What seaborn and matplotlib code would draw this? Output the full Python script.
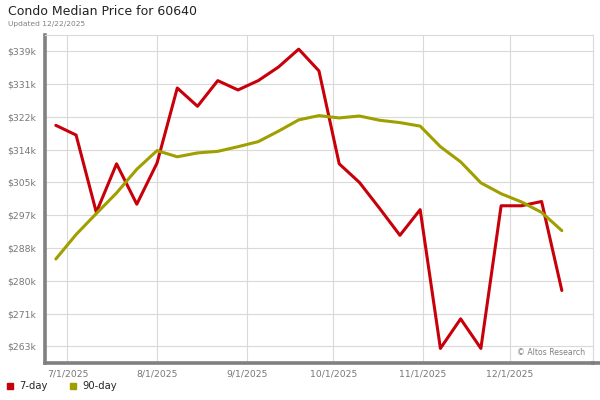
import matplotlib
matplotlib.use("Agg")
import matplotlib.pyplot as plt
import matplotlib.dates as mdates
from matplotlib.lines import Line2D
from matplotlib.ticker import FuncFormatter, FixedLocator
import seaborn as sns
import pandas as pd
import numpy as np

# ---- data ----
dates = ["2025-06-27", "2025-07-04", "2025-07-11", "2025-07-18", "2025-07-25",
         "2025-08-01", "2025-08-08", "2025-08-15", "2025-08-22", "2025-08-29",
         "2025-09-05", "2025-09-12", "2025-09-19", "2025-09-26", "2025-10-03",
         "2025-10-10", "2025-10-17", "2025-10-24", "2025-10-31", "2025-11-07",
         "2025-11-14", "2025-11-21", "2025-11-28", "2025-12-05", "2025-12-12",
         "2025-12-19"]
day7 = [319.9, 317.4, 297.5, 310.0, 299.6, 310.2, 329.5, 324.8, 331.4, 329.0,
        331.4, 334.9, 339.5, 333.9, 310.0, 305.2, 298.5, 291.6, 298.2, 262.5,
        270.1, 262.5, 299.2, 299.2, 300.3, 277.4]
day90 = [285.5, 291.8, 297.2, 302.5, 308.6, 313.4, 311.8, 312.8, 313.2, 314.4,
         315.7, 318.4, 321.3, 322.4, 321.8, 322.3, 321.2, 320.6, 319.7, 314.4,
         310.5, 305.1, 302.3, 300.2, 297.5, 292.8]
series_names = ["7-day", "90-day"]
y_ticks = [263000 + i * (339000 - 263000) / 9 for i in range(10)]
x_ticks = ["2025-07-01", "2025-08-01", "2025-09-01", "2025-10-01", "2025-11-01", "2025-12-01"]

colors = {"7-day": "#c8000a", "90-day": "#a09f00"}

df = pd.concat([
    pd.DataFrame({"date": pd.to_datetime(dates), "price": np.array(day7) * 1000, "series": "7-day"}),
    pd.DataFrame({"date": pd.to_datetime(dates), "price": np.array(day90) * 1000, "series": "90-day"}),
])

sns.set_theme(style="white")
plt.rcParams["font.family"] = ["DejaVu Sans"]

fig = plt.figure(figsize=(6, 4), dpi=100)
ax = fig.add_axes([0.0758, 0.0913, 0.912, 0.821])

sns.lineplot(data=df, x="date", y="price", hue="series", palette=colors,
             linewidth=2.2, ax=ax, legend=False, zorder=3)

ax.set_xlim(pd.Timestamp("2025-06-23 10:00"), pd.Timestamp("2025-12-29 16:00"))
ax.set_ylim(258620, 343120)

ax.yaxis.set_major_locator(FixedLocator(y_ticks))
ax.yaxis.set_major_formatter(FuncFormatter(lambda v, p: f"${v/1000:.0f}k"))
ax.xaxis.set_major_locator(FixedLocator([mdates.date2num(pd.Timestamp(d)) for d in x_ticks]))
ax.xaxis.set_major_formatter(FuncFormatter(
    lambda v, p: f"{mdates.num2date(v).month}/{mdates.num2date(v).day}/{mdates.num2date(v).year}"))

ax.grid(True, color="#d9d9d9", linewidth=0.8, zorder=0)
ax.set_axisbelow(True)
ax.tick_params(axis="both", length=0, labelsize=6.7, labelcolor="#777777")
ax.tick_params(axis="y", pad=7)
ax.tick_params(axis="x", pad=4)
ax.set_xlabel("")
ax.set_ylabel("")

for s in ["top", "right"]:
    ax.spines[s].set_color("#d9d9d9")
    ax.spines[s].set_linewidth(0.8)
for s in ["left", "bottom"]:
    ax.spines[s].set_color("#808080")
    ax.spines[s].set_linewidth(2.6)

# bottom bar continues to figure edge
fig.add_artist(Line2D([0.985, 1.0], [0.0913, 0.0913], transform=fig.transFigure,
                      color="#808080", linewidth=2.6, solid_capstyle="butt"))

ax.text(0.987, 0.032, "© Altos Research", transform=ax.transAxes, ha="right", va="center",
        fontsize=5.6, color="#808080")

fig.text(0.013, 0.988, "Condo Median Price for 60640", ha="left", va="top",
         fontsize=9, color="#222222")
fig.text(0.013, 0.948, "Updated 12/22/2025", ha="left", va="top",
         fontsize=5.4, color="#808080")

handles = [Line2D([], [], marker="s", linestyle="none", markersize=4.5,
                  markerfacecolor=colors[n], markeredgecolor=colors[n]) for n in series_names]
fig.legend(handles, series_names, loc="center left", bbox_to_anchor=(0.0, 0.035),
           ncol=2, frameon=False, fontsize=7.2, handlelength=0.8, handletextpad=0.5,
           columnspacing=2.2, borderaxespad=0.2)

fig.savefig("out.png", dpi=100)
